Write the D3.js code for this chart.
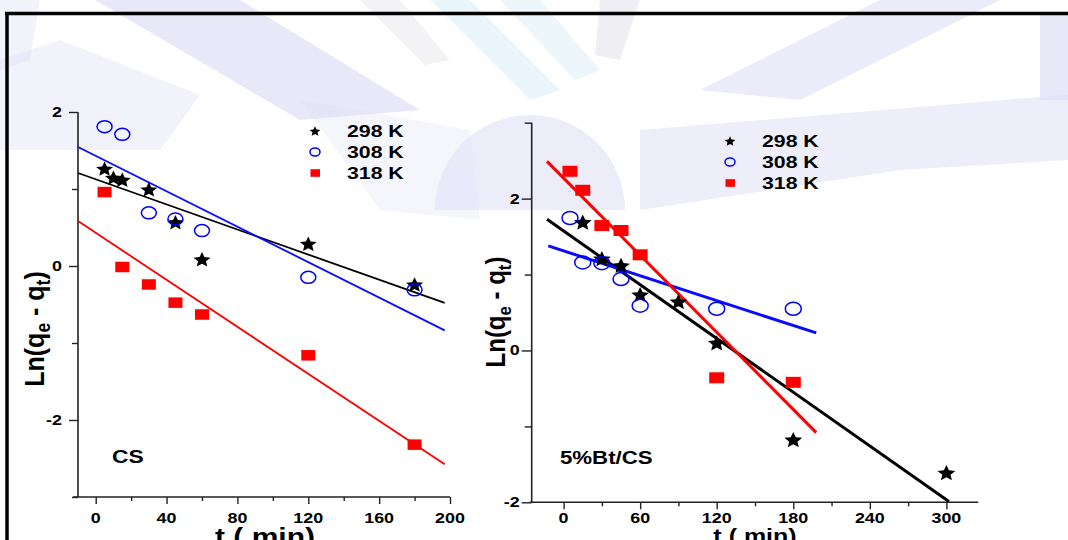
<!DOCTYPE html>
<html><head><meta charset="utf-8">
<script src="https://cdn.jsdelivr.net/npm/d3@7"></script>
<style>body{margin:0;background:#fff}svg{display:block}</style>
</head><body>
<svg id="c" width="1068" height="540"></svg>
<script>
// ---------- DATA ----------
const seriesNames = ["298 K", "308 K", "318 K"];

// Panel 1: CS
const csTimes298 = [5, 10, 15, 30, 45, 60, 120, 180];
const cs298      = [1.265, 1.148, 1.12, 0.996, 0.57, 0.087, 0.29, -0.24];
const csTimes308 = [5, 15, 30, 45, 60, 120, 180];
const cs308      = [1.81, 1.71, 0.69, 0.61, 0.46, -0.147, -0.31];
const csTimes318 = [5, 15, 30, 45, 60, 120, 180];
const cs318      = [0.96, -0.013, -0.24, -0.476, -0.63, -1.16, -2.32];
const csFitSlope     = [-0.00815, -0.0115, -0.01526];
const csFitIntercept = [1.126, 1.43, 0.431];
const csFitStart     = [-10, -10, -10];
const csFitEnd       = [197, 197, 197];
const csXTicks = [0, 40, 80, 120, 160, 200];
const csXMinor = [20, 60, 100, 140, 180];
const csYTicks = [-2, 0, 2];
const csYMinor = [-3, -1, 1];

// Panel 2: 5%Bt/CS
const btTimes298 = [15, 30, 45, 60, 90, 120, 180, 300];
const bt298      = [1.69, 1.21, 1.12, 0.737, 0.645, 0.10, -1.175, -1.61];
const btTimes308 = [5, 15, 30, 45, 60, 120, 180];
const bt308      = [1.745, 1.16, 1.15, 0.94, 0.59, 0.55, 0.55];
const btTimes318 = [5, 15, 30, 45, 60, 120, 180];
const bt318      = [2.36, 2.11, 1.645, 1.58, 1.26, -0.36, -0.42];
const btFitSlope     = [-0.0118, -0.00546, -0.01693];
const btFitIntercept = [1.574, 1.312, 2.27];
const btFitStart     = [-13, -12, -13];
const btFitEnd       = [302, 198, 198];
const btXTicks = [0, 60, 120, 180, 240, 300];
const btXMinor = [30, 90, 150, 210, 270];
const btYTicks = [-2, 0, 2];
const btYMinor = [-1, 1, 3];

// ---------- DRAWING ----------
const svg = d3.select("#c");
const FONT = "'Liberation Sans', Arial, sans-serif";

// decorative background (soft lavender bands)
const bg = svg.append("g");
const lav = "#dedef5";
const polys = [
  {p:[[95,0],[240,0],[420,110],[300,120]], f:lav, o:0.7},
  {p:[[0,60],[60,40],[200,95],[160,150],[0,150]], f:lav, o:0.4},
  {p:[[0,0],[40,0],[30,60],[0,70]], f:lav, o:0.4},
  {p:[[880,0],[1000,0],[800,100],[700,90]], f:lav, o:0.6},
  {p:[[1040,12],[1068,12],[1068,100],[1040,100]], f:lav, o:0.7},
  {p:[[640,130],[1040,97],[1068,95],[1068,160],[900,170],[640,210]], f:lav, o:0.5},
  {p:[[300,100],[470,130],[480,220],[380,210]], f:lav, o:0.3},
  {p:[[430,0],[470,0],[560,90],[530,100]], f:"#daeef8", o:0.6},
  {p:[[500,0],[540,0],[600,70],[575,80]], f:"#daeef8", o:0.5},
  {p:[[600,0],[640,0],[620,60],[595,55]], f:"#e8e8ee", o:0.7},
  {p:[[360,0],[400,0],[450,60],[425,65]], f:"#e8e8ee", o:0.5}
];
polys.forEach(d => bg.append("path").attr("d", d3.line()(d.p)+"Z").attr("fill", d.f).attr("opacity", d.o));
bg.append("path").attr("d", d3.arc()({innerRadius:0, outerRadius:95, startAngle:-Math.PI/2, endAngle:Math.PI/2}))
  .attr("transform","translate(530,210)").attr("fill", lav).attr("opacity",0.55);

// frame
svg.append("line").attr("x1",5).attr("x2",1068).attr("y1",13.5).attr("y2",13.5).attr("stroke","#000").attr("stroke-width",3.5);
svg.append("line").attr("x1",7).attr("x2",7).attr("y1",12).attr("y2",540).attr("stroke","#000").attr("stroke-width",3.5);

function stretchText(g, x, y, txt, size, sx, anchor) {
  return g.append("text").attr("transform", `translate(${x},${y}) scale(${sx},1)`)
    .attr("font-family", FONT).attr("font-weight","bold").attr("font-size", size)
    .attr("text-anchor", anchor || "start").attr("fill","#000").text(txt);
}

// five-pointed star with fairly thick arms
function starPath(r) {
  const ri = r * 0.46, pts = [];
  for (let k = 0; k < 10; k++) {
    const a = -Math.PI / 2 + k * Math.PI / 5, rr = k % 2 ? ri : r;
    pts.push([rr * Math.cos(a), rr * Math.sin(a)]);
  }
  return d3.line()(pts) + "Z";
}

function drawPanel(cfg) {
  const g = svg.append("g");
  const x = d3.scaleLinear().domain(cfg.xDom).range(cfg.xRange);
  const y = d3.scaleLinear().domain(cfg.yDom).range(cfg.yRange);
  const x0 = cfg.xRange[0], yB = cfg.yRange[0];

  // axes
  const axCol = "#222";
  const xa = g.append("g").attr("transform",`translate(0,${yB})`)
    .call(d3.axisBottom(x).tickValues(cfg.xTicks).tickSize(7).tickFormat(""));
  const xm = g.append("g").attr("transform",`translate(0,${yB})`)
    .call(d3.axisBottom(x).tickValues(cfg.xMinor).tickSize(4).tickFormat(""));
  const ya = g.append("g").attr("transform",`translate(${x0},0)`)
    .call(d3.axisLeft(y).tickValues(cfg.yTicks).tickSize(cfg.yTick).tickFormat(""));
  const ym = g.append("g").attr("transform",`translate(${x0},0)`)
    .call(d3.axisLeft(y).tickValues(cfg.yMinor).tickSize(cfg.yTick-3).tickFormat(""));
  [xa,xm,ya,ym].forEach(a => { a.selectAll("path").attr("stroke",axCol).attr("stroke-width",1.6);
    a.selectAll("line").attr("stroke",axCol).attr("stroke-width",1.4); });
  xm.select("path").remove(); ym.select("path").remove();
  xa.select("path").attr("d", `M${x0 - cfg.xExt},0H${cfg.xRange[1]}`);
  ya.select("path").attr("d", `M0,${yB}V${cfg.yRange[1]}`);

  // tick labels
  cfg.xTicks.forEach(t => stretchText(g, x(t), 523, String(t), 14, 1.28, "middle"));
  cfg.yTicks.forEach(t => stretchText(g, x0 - cfg.yLabGap, y(t) + 5, String(t), 14, 1.28, "end"));

  // fit lines
  const line = d3.line().x(d => x(d[0])).y(d => y(d[1]));
  const colors = ["#000000", "#0a0aff", "#ff0000"];
  cfg.slope.forEach((s, i) => {
    const pts = [cfg.fitStart[i], cfg.fitEnd[i]].map(t => [t, cfg.intercept[i] + s * t]);
    g.append("path").attr("d", line(pts)).attr("stroke", colors[i]).attr("stroke-width", cfg.lw).attr("fill","none");
  });

  // markers
  const ms = cfg.ms;
  cfg.t318.forEach((t, i) => g.append("rect").attr("x", x(t) - ms.sqW/2).attr("y", y(cfg.v318[i]) - ms.sqH/2)
    .attr("width", ms.sqW).attr("height", ms.sqH).attr("fill", "#ff0000"));
  cfg.t298.forEach((t, i) => g.append("path").attr("d", starPath(ms.star))
    .attr("transform", `translate(${x(t)},${y(cfg.v298[i]) + 0.8}) scale(1.12,1)`).attr("fill","#000"));
  cfg.t308.forEach((t, i) => g.append("ellipse").attr("cx", x(t)).attr("cy", y(cfg.v308[i]))
    .attr("rx", ms.cRx).attr("ry", ms.cRy).attr("fill","none").attr("stroke","#0000ff").attr("stroke-width",1.5));

  // legend
  const L = cfg.legend;
  seriesNames.forEach((nm, i) => {
    const cy = L.y + i * 21;
    if (i === 0) g.append("path").attr("d", starPath(5.2)).attr("transform",`translate(${L.x},${cy+0.5}) scale(1.1,1)`).attr("fill","#000");
    if (i === 1) g.append("ellipse").attr("cx", L.x).attr("cy", cy).attr("rx",5).attr("ry",4).attr("fill","none").attr("stroke","#0000ff").attr("stroke-width",1.5);
    if (i === 2) g.append("rect").attr("x", L.x-4.5).attr("y", cy-3.8).attr("width",9.5).attr("height",7.6).attr("fill","#ff0000");
    stretchText(g, L.tx, cy + 6, nm, 17, 1.25, "start");
  });

  // panel label
  stretchText(g, cfg.label.x, cfg.label.y, cfg.label.text, cfg.label.size, cfg.label.sx, "start");

  // axis titles
  stretchText(g, cfg.xTitle.x, cfg.xTitle.y, "t ( min)", cfg.xTitle.size, 1.25, "middle");
  const yt = g.append("text").attr("transform", `translate(${cfg.yTitle.x},${cfg.yTitle.y}) scale(1.12,1) rotate(-90)`)
    .attr("font-family", FONT).attr("font-weight","bold").attr("font-size", cfg.yTitle.size).attr("text-anchor","middle");
  yt.append("tspan").text("Ln(q");
  yt.append("tspan").attr("font-size", cfg.yTitle.size*0.7).attr("dy", 5).text("e");
  yt.append("tspan").attr("dy", -5).text(" - q");
  yt.append("tspan").attr("font-size", cfg.yTitle.size*0.7).attr("dy", 5).text("t");
  yt.append("tspan").attr("dy", -5).text(")");
}

drawPanel({
  xDom:[-10,200], xRange:[78,450], yDom:[-3,2], yRange:[497,112], xExt:5, yTick:9, yLabGap:16,
  xTicks:csXTicks, xMinor:csXMinor, yTicks:csYTicks, yMinor:csYMinor,
  t298:csTimes298, v298:cs298, t308:csTimes308, v308:cs308, t318:csTimes318, v318:cs318,
  slope:csFitSlope, intercept:csFitIntercept, fitStart:csFitStart, fitEnd:csFitEnd, lw:1.8,
  ms:{star:8, cRx:7.5, cRy:6, sqW:14, sqH:10.5},
  legend:{x:315, y:131, tx:347},
  label:{x:112, y:463, text:"CS", size:19, sx:1.2},
  xTitle:{x:265, y:545, size:24},
  yTitle:{x:44, y:329, size:25}
});

drawPanel({
  xDom:[-25,325], xRange:[531.7,978.3], yDom:[-2,3], yRange:[502.3,122.7], xExt:2, yTick:10, yLabGap:12,
  xTicks:btXTicks, xMinor:btXMinor, yTicks:btYTicks, yMinor:btYMinor,
  t298:btTimes298, v298:bt298, t308:btTimes308, v308:bt308, t318:btTimes318, v318:bt318,
  slope:btFitSlope, intercept:btFitIntercept, fitStart:btFitStart, fitEnd:btFitEnd, lw:3,
  ms:{star:8.4, cRx:8, cRy:6.5, sqW:15, sqH:11},
  legend:{x:730, y:141, tx:762},
  label:{x:560, y:464, text:"5%Bt/CS", size:17.5, sx:1.27},
  xTitle:{x:755, y:543, size:20},
  yTitle:{x:505, y:312, size:24}
});
</script>
</body></html>
